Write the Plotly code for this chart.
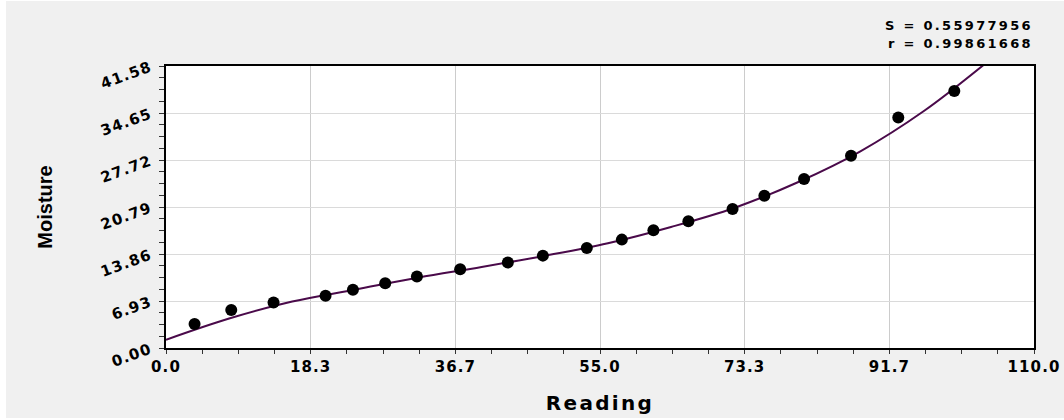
import plotly.graph_objects as go

# ---- data ----
reading = [3.62, 8.27, 13.63, 20.22, 23.69, 27.78, 31.80, 37.28, 43.32, 47.76,
           53.33, 57.77, 61.77, 66.20, 71.80, 75.83, 80.86, 86.81, 92.80, 99.90]
moisture = [3.53, 5.59, 6.71, 7.69, 8.58, 9.56, 10.53, 11.62, 12.59, 13.62,
            14.76, 15.98, 17.36, 18.68, 20.49, 22.45, 24.91, 28.34, 33.99, 37.90]

fit_x = [0, 8, 16, 24, 32, 40, 48, 56, 64, 72, 80, 88, 96, 104]
fit_y = [1.22, 4.35, 6.85, 8.62, 10.40, 11.95, 13.60, 15.45, 17.85, 20.65,
         24.4, 29.0, 34.9, 42.1]

x_tick_vals = [0, 18.3333, 36.6667, 55, 73.3333, 91.6667, 110]
x_tick_labels = ["0.0", "18.3", "36.7", "55.0", "73.3", "91.7", "110.0"]
y_tick_vals = [0, 6.93, 13.86, 20.79, 27.72, 34.65, 41.58]
y_tick_labels = ["0.00", "6.93", "13.86", "20.79", "27.72", "34.65", "41.58"]

stats_lines = ["S = 0.55977956", "r = 0.99861668"]
x_title = "Reading"
y_title = "Moisture"


def spaced(text, ls):
    return f'<span style="letter-spacing:{ls}px">{text}</span>'


W, H = 1064, 420
L, R, T, B = 166, 30, 66, 72
PW, PH = W - L - R, H - T - B


def px_x(p):
    return (p - L) / PW


def px_y(p):
    return (H - B - p) / PH


fig = go.Figure()

fig.add_trace(go.Scatter(
    x=fit_x, y=fit_y, mode="lines",
    line=dict(color="#4a0a4a", width=2, shape="spline", smoothing=1.0),
    hoverinfo="skip"))

fig.add_trace(go.Scatter(
    x=reading, y=moisture, mode="markers",
    marker=dict(color="black", size=12, symbol="circle", line=dict(width=0))))

tick_font = dict(family="DejaVu Sans", size=15, color="black", weight="bold")

fig.update_xaxes(
    range=[0, 110], tickmode="array", tickvals=x_tick_vals,
    ticktext=[spaced(t, 1.1) for t in x_tick_labels],
    ticks="outside", ticklen=4, tickwidth=1, tickcolor="#333",
    showline=True, linecolor="black", linewidth=1.5, mirror=True,
    showgrid=True, gridcolor="#cccccc", gridwidth=1, zeroline=False,
    minor=dict(ticks="outside", ticklen=4, tickwidth=1, tickcolor="#333",
               tick0=0, dtick=110 / 24, showgrid=False),
    tickfont=tick_font,
    title=dict(text=spaced(x_title, 2.3), standoff=21,
               font=dict(family="DejaVu Sans", size=20, color="black", weight="bold")),
    automargin=False)

fig.update_yaxes(
    range=[0, 41.58], tickmode="array", tickvals=y_tick_vals,
    ticktext=[spaced(t, 1.1) for t in y_tick_labels],
    tickangle=-20, ticklabelstandoff=6,
    ticks="outside", ticklen=5, tickwidth=1, tickcolor="#333",
    showline=True, linecolor="black", linewidth=1.5, mirror=True,
    showgrid=True, gridcolor="#dadada", gridwidth=1, zeroline=False,
    minor=dict(ticks="outside", ticklen=5, tickwidth=1, tickcolor="#333",
               tick0=0, dtick=6.93 / 4, showgrid=False),
    tickfont=tick_font,
    title=dict(text=y_title, standoff=40,
               font=dict(family="Liberation Sans", size=20, color="black", weight="bold")),
    automargin=False)

annotations = []
for i, line in enumerate(stats_lines):
    annotations.append(dict(
        text=spaced(line, 2.3), xref="paper", yref="paper",
        x=px_x(1035), y=px_y(25 + 18 * i), xanchor="right", yanchor="middle",
        showarrow=False,
        font=dict(family="DejaVu Sans", size=13, color="black", weight="bold")))

shapes = [
    dict(type="rect", xref="paper", yref="paper", layer="below",
         x0=px_x(0), x1=px_x(6), y0=px_y(H), y1=px_y(0),
         fillcolor="white", line=dict(width=0)),
    dict(type="rect", xref="paper", yref="paper", layer="below",
         x0=px_x(0), x1=px_x(W), y0=px_y(H), y1=px_y(418),
         fillcolor="white", line=dict(width=0)),
    dict(type="rect", xref="paper", yref="paper", layer="below",
         x0=px_x(0), x1=px_x(W), y0=px_y(1), y1=px_y(0),
         fillcolor="white", line=dict(width=0)),
]

fig.update_layout(
    width=W, height=H,
    margin=dict(l=L, r=R, t=T, b=B, autoexpand=False),
    paper_bgcolor="#f0f0f0", plot_bgcolor="white",
    showlegend=False, annotations=annotations, shapes=shapes)

fig.write_html("out.html", config={"displayModeBar": False},
               post_script="document.body.style.margin='0';")
